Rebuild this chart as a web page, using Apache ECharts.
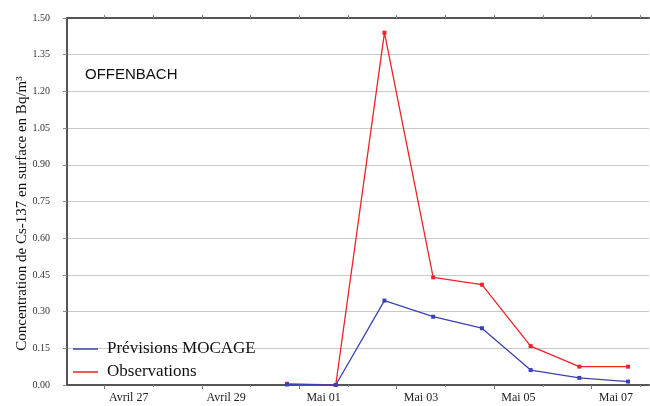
<!DOCTYPE html>
<html>
<head>
<meta charset="utf-8">
<script src="https://cdn.jsdelivr.net/npm/echarts@6/dist/echarts.min.js"></script>
<style>
  html, body { margin: 0; padding: 0; background: #fff; }
  #chart { width: 650px; height: 406px; }
</style>
</head>
<body>
<div id="chart"></div>
<script>
// x values are days counted from 27 April 00:00 (samples taken at 18h)
const sampleDays = [3.75, 4.75, 5.75, 6.75, 7.75, 8.75, 9.75, 10.75];
const previsions = [0.002, 0.0, 0.345, 0.279, 0.232, 0.061, 0.029, 0.014];
const observations = [0.005, 0.0, 1.44, 0.44, 0.41, 0.159, 0.075, 0.075];

const dayLabels = ['Avril 27', 'Avril 29', 'Mai 01', 'Mai 03', 'Mai 05', 'Mai 07'];
const labelDays = [0.5, 2.5, 4.5, 6.5, 8.5, 10.5];
const majorTicks = [0, 2, 4, 6, 8, 10];
const minorTicks = [1, 3, 5, 7, 9, 11];
const allTicks = [0, 1, 2, 3, 4, 5, 6, 7, 8, 9, 10, 11];

const xMin = -0.766;
const xMax = 11.18;

const serif = '"Liberation Serif", "DejaVu Serif", serif';
const axisDark = '#555';

function pairs(xs, ys) {
  return xs.map((x, i) => [x, ys[i]]);
}

const chart = echarts.init(document.getElementById('chart'));

const option = {
  animation: false,
  backgroundColor: '#fff',
  title: {
    text: 'OFFENBACH',
    left: 80,
    top: 62,
    textStyle: {
      fontFamily: '"Liberation Sans", Arial, sans-serif',
      fontWeight: 'normal',
      fontSize: 15,
      color: '#111',
    },
  },
  legend: {
    orient: 'vertical',
    left: 68,
    top: 335,
    itemGap: 5,
    icon: 'rect',
    itemWidth: 25,
    itemHeight: 1.5,
    data: ['Prévisions MOCAGE', 'Observations'],
    textStyle: {
      fontFamily: serif,
      fontSize: 17,
      lineHeight: 18,
      color: '#111',
      padding: [0, 0, 0, 4],
    },
  },
  grid: {
    left: 67,
    right: 1,
    top: 18,
    bottom: 21,
    outerBoundsMode: 'none',
  },
  xAxis: [
    {
      type: 'value',
      position: 'bottom',
      min: xMin,
      max: xMax,
      axisLine: { lineStyle: { color: axisDark, width: 2 } },
      axisTick: {
        customValues: majorTicks,
        length: 4,
        lineStyle: { color: '#777' },
      },
      axisLabel: {
        customValues: labelDays,
        margin: 7,
        fontFamily: serif,
        fontSize: 12,
        color: '#222',
        formatter(v) {
          const i = labelDays.indexOf(v);
          return i >= 0 ? dayLabels[i] : '';
        },
      },
      splitLine: { show: false },
    },
    {
      type: 'value',
      position: 'bottom',
      min: xMin,
      max: xMax,
      axisLine: { show: false },
      axisTick: {
        customValues: minorTicks,
        length: 2,
        lineStyle: { color: '#888' },
      },
      axisLabel: { show: false },
      splitLine: { show: false },
    },
    {
      type: 'value',
      position: 'top',
      min: xMin,
      max: xMax,
      axisLine: { lineStyle: { color: axisDark, width: 2 } },
      axisTick: {
        customValues: allTicks,
        length: 3,
        lineStyle: { color: '#888' },
      },
      axisLabel: { show: false },
      splitLine: { show: false },
    },
  ],
  yAxis: {
    type: 'value',
    min: 0,
    max: 1.5,
    interval: 0.15,
    name: 'Concentration de Cs-137 en surface en Bq/m³',
    nameLocation: 'middle',
    nameGap: 37,
    nameMoveOverlap: false,
    nameTextStyle: {
      fontFamily: serif,
      fontSize: 15,
      color: '#111',
      padding: [0, 24, 0, 0],
    },
    axisLine: { show: true, onZero: false, lineStyle: { color: axisDark, width: 2 } },
    axisTick: { show: true, length: 4, lineStyle: { color: '#888' } },
    axisLabel: {
      margin: 17,
      fontFamily: serif,
      fontSize: 10,
      color: '#333',
      formatter: (v) => v.toFixed(2),
    },
    splitLine: { lineStyle: { color: '#c8c8c8', width: 1 } },
  },
  series: [
    {
      name: 'Observations',
      type: 'line',
      data: pairs(sampleDays, observations),
      symbol: 'rect',
      symbolSize: 4,
      color: '#ee2229',
      lineStyle: { width: 1.3 },
      z: 2,
    },
    {
      name: 'Prévisions MOCAGE',
      type: 'line',
      data: pairs(sampleDays, previsions),
      symbol: 'rect',
      symbolSize: 4,
      color: '#3a42b4',
      lineStyle: { width: 1.3 },
      z: 3,
    },
  ],
};

chart.setOption(option);
</script>
</body>
</html>
